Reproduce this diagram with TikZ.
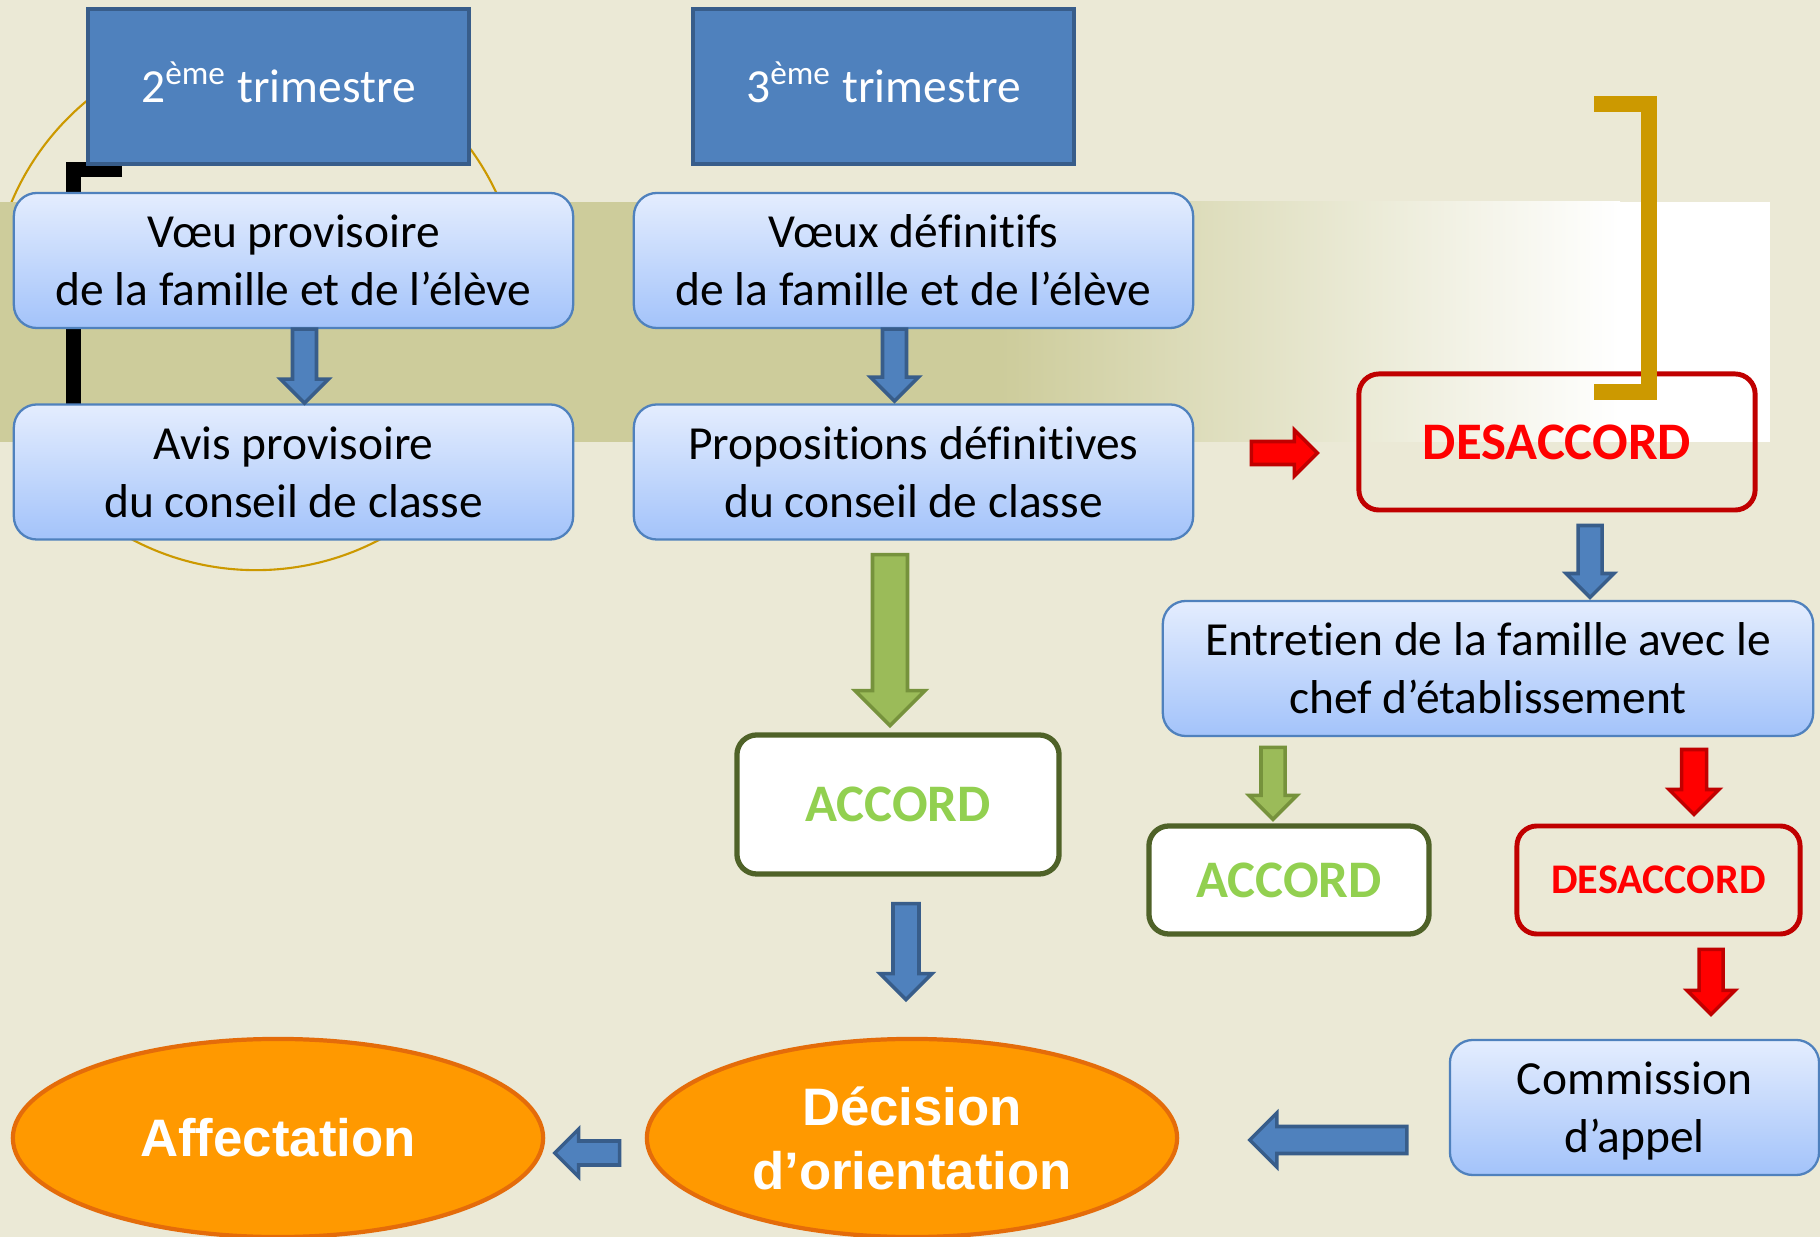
\documentclass[tikz,border=0pt]{standalone}
\usepackage{fontspec}
\setmainfont{Carlito}[Ligatures=NoCommon]
\newfontfamily\arialfont{Liberation Sans}
\usetikzlibrary{calc,shapes.geometric}
\definecolor{fond}{RGB}{235,233,214}
\definecolor{bande}{RGB}{205,204,155}
\definecolor{tribleu}{RGB}{79,129,189}
\definecolor{triborder}{RGB}{56,93,138}
\definecolor{boitehaut}{RGB}{228,237,254}
\definecolor{boitebas}{RGB}{163,195,250}
\definecolor{vertclair}{RGB}{146,208,80}
\definecolor{vertfonce}{RGB}{79,98,40}
\definecolor{vertfleche}{RGB}{155,187,89}
\definecolor{vertbord}{RGB}{118,146,60}
\definecolor{rouge}{RGB}{255,0,0}
\definecolor{rougefonce}{RGB}{192,0,0}
\definecolor{orange}{RGB}{255,153,0}
\definecolor{orangebord}{RGB}{228,108,10}
\definecolor{or}{RGB}{204,153,0}
% block arrow: style, start, angle, length, shaft width
\newcommand{\fleche}[5]{\draw[#1,shift={#2},rotate=#3] (0,{-#5/2}) -- ({#4-#5},{-#5/2}) -- ({#4-#5},{-#5}) -- (#4,0) -- ({#4-#5},#5) -- ({#4-#5},{#5/2}) -- (0,{#5/2}) -- cycle;}

\begin{document}
\begin{tikzpicture}[x=0.01cm,y=-0.01cm,
  tri/.style={draw=triborder,fill=tribleu,line width=1.2pt,minimum width=3.81cm,minimum height=1.55cm,inner sep=0pt,text=white,font=\fontsize{13.5}{17}\selectfont},
  boite/.style={draw=tribleu,line width=0.65pt,rounded corners=0.23cm,top color=boitehaut,bottom color=boitebas,minimum width=5.59cm,minimum height=1.35cm,inner sep=0pt,align=center,font=\fontsize{13.5}{16.5}\selectfont},
  accordbox/.style={draw=vertfonce,fill=white,line width=1.5pt,rounded corners=0.2cm,inner sep=0pt,text=vertclair,font=\bfseries\fontsize{15}{18}\selectfont},
  desaccbox/.style={draw=rougefonce,line width=1.4pt,rounded corners=0.2cm,inner sep=0pt,text=rouge,font=\bfseries\fontsize{15}{18}\selectfont},
  ovale/.style={ellipse,draw=orangebord,fill=orange,line width=1.2pt,minimum width=5.3cm,minimum height=1.98cm,inner sep=0pt,align=center,text=white,font=\arialfont\bfseries\fontsize{15}{18.2}\selectfont},
  bluearrow/.style={fill=tribleu,draw=triborder,line width=1pt},
  greenarrow/.style={fill=vertfleche,draw=vertbord,line width=1pt},
  redarrow/.style={fill=rouge,draw=rougefonce,line width=1pt}]
  \fill[fond] (0,0) rectangle (1820,1237);
  \useasboundingbox (0,0) rectangle (1820,1237);
  \draw[or,line width=0.6pt] (256,305) circle (2.65cm);
  % band behind the first rows
  \fill[bande] (0,202) rectangle (1000,442);
  \shade[left color=bande,right color=white] (1000,202) rectangle (1620,442);
  \fill[white] (1620,202) rectangle (1770,442);
  \draw[black,line width=0.15cm] (122,170) -- (73.5,170) -- (73.5,420);

  \node[tri] (tri2) at (278.5,86.5) {2\smash{\textsuperscript{ème}} trimestre};
  \node[tri] (tri3) at (883.5,86.5) {3\smash{\textsuperscript{ème}} trimestre};
  \node[boite] (voeu) at (293.5,260.5) {Vœu provisoire\\de la famille et de l’élève};
  \node[boite] (avis) at (293.5,472) {Avis provisoire\\du conseil de classe};
  \node[boite] (voeux) at (913.5,260.5) {Vœux définitifs\\de la famille et de l’élève};
  \node[boite] (prop) at (913.5,472) {Propositions définitives\\du conseil de classe};
  \node[desaccbox,minimum width=3.96cm,minimum height=1.36cm] (desac) at (1557,442) {DESACCORD};
  \node[boite,minimum width=6.5cm] (entretien) at (1488,668.5) {Entretien de la famille avec le\\chef d’établissement};
  \node[accordbox,minimum width=3.22cm,minimum height=1.39cm] (accord) at (898,804.5) {ACCORD};
  \node[accordbox,minimum width=2.8cm,minimum height=1.08cm] (accord2) at (1289,880) {ACCORD};
  \node[desaccbox,minimum width=2.83cm,minimum height=1.08cm,font=\bfseries\fontsize{12}{14}\selectfont] (desac2) at (1658.5,880) {DESACCORD};
  \node[boite,minimum width=3.69cm,text depth=0pt] (commission) at (1634.5,1107.5) {Commission\\d’appel};
  \node[ovale] (affect) at (278,1138) {Affectation};
  \node[ovale] (decision) at (912,1138) {Décision\\d’orientation};

  \fleche{bluearrow}{($(voeu.south)+(11,0)$)}{-90}{74}{24}
  \fleche{bluearrow}{($(voeux.south)+(-19,0)$)}{-90}{72}{24}
  \fleche{greenarrow}{($(prop.south)+(-23.5,14)$)}{-90}{171}{35}
  \fleche{bluearrow}{($(accord.south)+(8,27)$)}{-90}{96}{26}
  \fleche{redarrow}{($(prop.east)+(57,-19)$)}{0}{66}{23}
  \fleche{bluearrow}{($(desac.south)+(33,13)$)}{-90}{72}{24}
  \fleche{greenarrow}{($(accord2.north)+(-16,-76)$)}{-90}{72}{24}
  \fleche{redarrow}{($(desac2.north)+(35.5,-74)$)}{-90}{65}{25}
  \fleche{redarrow}{($(desac2.south)+(52.5,13)$)}{-90}{65}{24}
  \fleche{bluearrow}{($(commission.west)+(-42,32.5)$)}{180}{157}{27}
  \fleche{bluearrow}{($(decision.west)+(-25,15)$)}{180}{65}{24}

  \draw[or,line width=0.16cm] (1594,104) -- (1649,104) -- (1649,392) -- (1594,392);
\end{tikzpicture}
\end{document}
